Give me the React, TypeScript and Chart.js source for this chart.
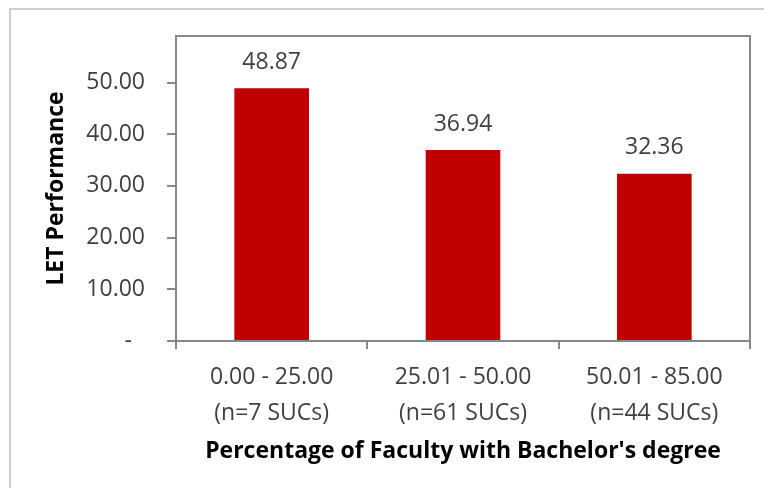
import { useEffect, useRef } from "react";
import { Chart, registerables } from "chart.js";

Chart.register(...registerables);

// Faculty qualification bands and SUC counts per band
const ranges = ["0.00 - 25.00", "25.01 - 50.00", "50.01 - 85.00"];
const sucCounts = [7, 61, 44];
// Mean LET performance per band
const letPerformance = [48.87, 36.94, 32.36];
// Value axis ticks and extent
const yTicks = [0, 10, 20, 30, 40, 50];
const yMax = 59;

const FONT = "'Open Sans', 'Noto Sans', sans-serif";
const TEXT = "#404040";
const AXIS = "#878787";
const BAR = "#C00000";

const frame = {
  id: "frame",
  beforeDraw(chart: any) {
    const { ctx } = chart;
    ctx.save();
    ctx.fillStyle = "#ffffff";
    ctx.fillRect(0, 0, chart.width, chart.height);
    ctx.strokeStyle = "#bdbdbd";
    ctx.lineWidth = 1.5;
    ctx.beginPath();
    ctx.moveTo(10, chart.height);
    ctx.lineTo(10, 9);
    ctx.lineTo(chart.width, 9);
    ctx.stroke();
    ctx.restore();
  },
};

const plotBox = {
  id: "plotBox",
  afterDraw(chart: any) {
    const { ctx, chartArea: a } = chart;
    ctx.save();
    ctx.strokeStyle = AXIS;
    ctx.lineWidth = 2;
    ctx.beginPath();
    ctx.moveTo(a.left, a.bottom);
    ctx.lineTo(a.left, a.top);
    ctx.lineTo(a.right, a.top);
    ctx.lineTo(a.right, a.bottom);
    ctx.stroke();
    ctx.restore();
  },
};

const valueLabels = {
  id: "valueLabels",
  afterDatasetsDraw(chart: any) {
    const { ctx } = chart;
    const meta = chart.getDatasetMeta(0);
    ctx.save();
    ctx.fillStyle = TEXT;
    ctx.font = `23px ${FONT}`;
    ctx.textAlign = "center";
    ctx.textBaseline = "middle";
    meta.data.forEach((bar: any, i: number) => {
      const v = chart.data.datasets[0].data[i] as number;
      ctx.fillText(v.toFixed(2), bar.x, bar.y - 26);
    });
    ctx.restore();
  },
};

export default function App() {
  const ref = useRef<HTMLCanvasElement>(null);

  useEffect(() => {
    if (!ref.current) return;
    const chart = new Chart(ref.current, {
      type: "bar",
      data: {
        labels: ranges.map((r, i) => [r, `(n=${sucCounts[i]} SUCs)`]),
        datasets: [
          {
            data: letPerformance,
            backgroundColor: BAR,
            borderWidth: 0,
            barPercentage: 1,
            categoryPercentage: 0.39,
          },
        ],
      },
      options: {
        responsive: false,
        animation: false,
        devicePixelRatio: 1,
        layout: { padding: { top: 36, right: 14, left: 0, bottom: 0 } },
        plugins: {
          legend: { display: false },
          tooltip: { enabled: false },
        },
        scales: {
          x: {
            offset: true,
            grid: {
              offset: true,
              drawOnChartArea: false,
              drawTicks: true,
              tickLength: 8,
              color: AXIS,
              lineWidth: 2,
            },
            border: { display: true, color: AXIS, width: 2 },
            ticks: {
              color: TEXT,
              padding: 10,
              maxRotation: 0,
              autoSkip: false,
              font: { family: FONT, size: 23, lineHeight: "36px" } as any,
            },
            title: {
              display: true,
              text: "Percentage of Faculty with Bachelor's degree",
              color: "#000000",
              font: { family: FONT, size: 23, weight: "bold", lineHeight: 1.2 },
              padding: { top: 0, bottom: 23 },
            },
            afterFit(scale: any) {
              scale.height = 147;
            },
          },
          y: {
            min: 0,
            max: yMax,
            afterBuildTicks(scale: any) {
              scale.ticks = yTicks.map((v) => ({ value: v }));
            },
            grid: {
              drawOnChartArea: false,
              drawTicks: true,
              tickLength: 9,
              color: AXIS,
              lineWidth: 2,
            },
            border: { display: true, color: AXIS, width: 2 },
            ticks: {
              color: TEXT,
              padding: 22,
              font: { family: FONT, size: 23 },
              callback: (v: any) => (Number(v) === 0 ? "-\u2007" : Number(v).toFixed(2)),
            },
            title: {
              display: true,
              text: "LET Performance",
              color: "#000000",
              font: { family: FONT, size: 23, weight: "bold", lineHeight: 1.2 },
              padding: { top: 43, bottom: 0 },
            },
            afterFit(scale: any) {
              scale.width = 176;
            },
          },
        },
      },
      plugins: [frame, plotBox, valueLabels],
    });
    return () => chart.destroy();
  }, []);

  return (
    <div style={{ position: "fixed", left: 0, top: 0, width: 764, height: 488 }}>
      <canvas ref={ref} width={764} height={488} />
    </div>
  );
}
